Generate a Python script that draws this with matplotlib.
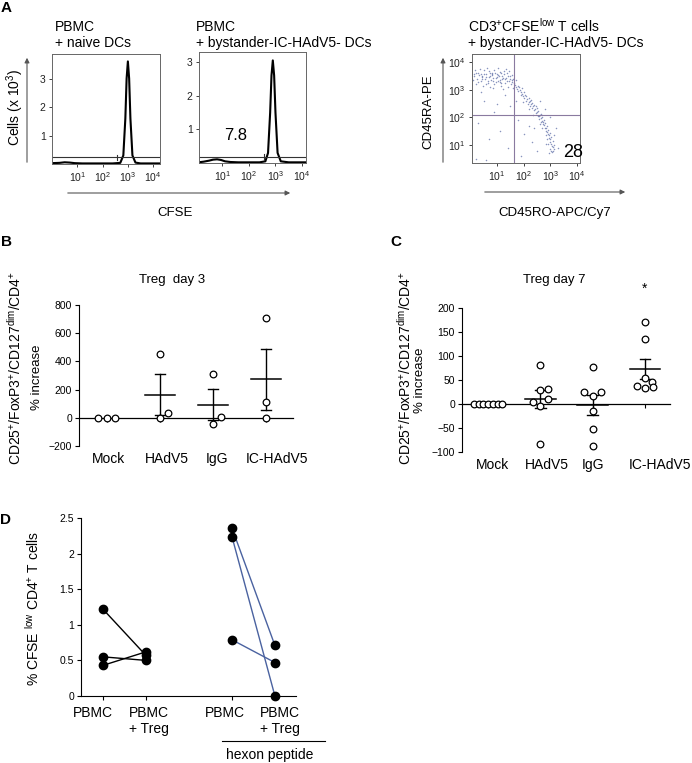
import numpy as np
import matplotlib
matplotlib.use("Agg")
import matplotlib.pyplot as plt
from matplotlib.patches import FancyArrowPatch
from matplotlib.lines import Line2D

plt.rcParams['font.family'] = ['Liberation Sans', 'DejaVu Sans']
plt.rcParams['mathtext.fontset'] = 'custom'
plt.rcParams['mathtext.rm'] = 'Liberation Sans'
plt.rcParams['mathtext.it'] = 'Liberation Sans:italic'
plt.rcParams['mathtext.bf'] = 'Liberation Sans:bold'
plt.rcParams['mathtext.default'] = 'regular'

# -----------------------------------------------------------
# Data
# -----------------------------------------------------------
# Panel A: CFSE histograms (log10 intensity vs cells x 10^3)
naive_log = [0.0, 0.3, 0.5, 0.7, 0.9, 1.2, 1.6, 2.0, 2.4, 2.7, 2.82, 2.9,
             2.95, 3.0, 3.05, 3.1, 3.18, 3.3, 3.5, 3.8, 4.25]
naive_cells = [0.03, 0.04, 0.06, 0.05, 0.03, 0.02, 0.02, 0.02, 0.02, 0.04, 0.3, 1.6,
               3.0, 3.6, 3.0, 1.6, 0.3, 0.05, 0.02, 0.02, 0.02]
byst_log = [0.1, 0.3, 0.5, 0.65, 0.8, 0.95, 1.1, 1.3, 1.6, 2.0, 2.4, 2.62, 2.72,
            2.8, 2.85, 2.9, 2.95, 3.0, 3.08, 3.2, 3.5, 3.8, 4.2]
byst_cells = [0.02, 0.04, 0.07, 0.10, 0.11, 0.09, 0.05, 0.03, 0.02, 0.02, 0.02, 0.05, 0.3,
              1.5, 2.6, 3.05, 2.6, 1.5, 0.3, 0.05, 0.02, 0.02, 0.02]
cfse_low_pct = "7.8"

# Panel A: CD45RO (x) vs CD45RA (y) dot plot of CFSE-low T cells, log10 units
ro_log = [0.15, 0.25, 0.30, 0.38, 0.42, 0.50, 0.55, 0.60, 0.65, 0.70, 0.72, 0.78, 0.82, 0.88, 0.90,
          0.95, 1.00, 1.02, 1.08, 1.12, 1.15, 1.20, 1.25, 1.28, 1.32, 1.38, 1.40, 1.45, 1.50, 1.52,
          1.58, 1.60, 0.20, 0.35, 0.48, 0.62, 0.85, 1.05, 1.22, 1.35, 0.10, 0.58, 0.75, 1.18, 1.46,
          1.65, 1.70, 1.72, 1.78, 1.80, 1.85, 1.88, 1.92, 1.95, 2.00, 2.02, 2.08, 2.10, 2.15, 2.18,
          2.22, 2.25, 2.30, 2.32, 2.38, 2.40, 2.45, 2.48, 2.52, 2.55, 2.58, 2.62, 2.65, 2.68, 2.72,
          2.75, 2.78, 2.80, 2.84, 2.86, 2.90, 2.92, 2.95, 2.97, 3.00, 3.02, 3.05, 3.08, 3.10, 3.12,
          2.88, 2.98, 2.70, 2.60, 2.35, 2.20, 1.98, 0.50, 0.90, 1.30, 0.30, 1.10, 1.50, 0.70, 1.80,
          2.00, 1.40, 2.30, 2.50, 2.60, 2.80, 3.20, 3.30, 1.90, 2.20, 0.40, 1.00, 1.70, 3.00, 2.40,
          0.20, 0.60, 0.45, 0.80, 1.10, 1.55, 2.95, 3.05, 2.85, 3.15,
          0.12, 0.22, 0.28, 0.33, 0.45, 0.52, 0.57, 0.68, 0.74, 0.80, 0.86, 0.93, 0.98, 1.04, 1.10,
          1.16, 1.24, 1.30, 1.36, 1.42, 1.48, 1.55, 0.40, 0.66, 0.96, 1.26, 1.56, 0.18, 0.84, 1.14,
          1.68, 1.75, 1.82, 1.90, 1.96, 2.05, 2.12, 2.20, 2.27, 2.34, 2.42, 2.50, 2.57, 2.64, 2.70,
          2.77, 2.83, 2.89, 2.94, 3.00, 3.04, 3.08, 3.14, 2.82, 2.92, 3.02, 2.74, 2.66, 2.46, 2.28]
ra_log = [3.55, 3.40, 3.62, 3.30, 3.50, 3.71, 3.38, 3.55, 3.25, 3.45, 3.62, 3.35, 3.52, 3.70, 3.20,
          3.42, 3.58, 3.30, 3.48, 3.65, 3.15, 3.38, 3.55, 3.25, 3.44, 3.60, 3.10, 3.32, 3.50, 3.20,
          3.40, 3.05, 3.20, 3.75, 3.15, 3.80, 3.05, 3.78, 3.02, 3.75, 3.35, 3.45, 3.10, 3.50, 3.68,
          3.25, 3.10, 3.35, 2.95, 3.15, 3.00, 2.80, 3.05, 2.85, 2.70, 2.92, 2.60, 2.78, 2.50, 2.70,
          2.42, 2.60, 2.35, 2.52, 2.25, 2.45, 2.15, 2.32, 2.05, 2.22, 1.95, 2.10, 1.85, 2.00, 1.75,
          1.90, 1.62, 1.80, 1.50, 1.68, 1.40, 1.55, 1.25, 1.45, 1.10, 1.30, 0.95, 1.15, 0.80, 1.00,
          1.20, 0.85, 1.60, 1.75, 2.10, 2.30, 2.55, 2.60, 2.20, 2.80, 1.80, 1.50, 2.40, 1.20, 1.90,
          1.40, 0.90, 1.10, 0.80, 2.60, 2.30, 1.60, 0.90, 0.60, 1.70, 2.90, 2.50, 2.60, 2.00, 1.60,
          0.50, 0.45, 3.45, 3.60, 3.28, 3.35, 0.70, 0.75, 1.05, 1.35,
          3.48, 3.60, 3.28, 3.52, 3.40, 3.58, 3.22, 3.68, 3.48, 3.58, 3.30, 3.60, 3.45, 3.52, 3.35,
          3.62, 3.44, 3.38, 3.30, 3.48, 3.40, 3.28, 3.58, 3.32, 3.28, 3.66, 3.52, 3.70, 3.42, 3.25,
          3.18, 3.02, 3.08, 2.90, 2.78, 2.82, 2.66, 2.55, 2.48, 2.40, 2.30, 2.18, 2.05, 1.98, 1.88,
          1.72, 1.60, 1.48, 1.35, 1.22, 1.05, 0.92, 0.85, 1.38, 1.05, 0.78, 1.82, 2.12, 2.40, 2.62]
ro_quadrant_pct = "28"

# Panels B and C: % increase of CD25+/FoxP3+/CD127dim/CD4+ Treg
treg_groups = ['Mock', 'HAdV5', 'IgG', 'IC-HAdV5']
treg_day3 = [[0, 0, 0],
             [452, 37, 2],
             [309, 9, -42],
             [705, 115, -2]]
treg_day7 = [[0, 0, 0, 0, 0, 0, 0],
             [81, 30, 31, 5, 11, -5, -84],
             [78, 26, 26, 16, -15, -52, -87],
             [170, 136, 54, 38, 46, 33, 36]]

# Panel D: % CFSE-low CD4+ T cells, paired donors
d_labels = ['PBMC', 'PBMC\n+ Treg', 'PBMC', 'PBMC\n+ Treg']
pbmc_alone = [1.22, 0.55, 0.43]
pbmc_treg = [0.57, 0.50, 0.62]
hexon_pbmc = [2.36, 2.24, 0.79]
hexon_treg = [0.71, 0.0, 0.47]

# -----------------------------------------------------------
# Layout helpers (reference is 692 x 763 px)
# -----------------------------------------------------------
W, H = 692, 763
fig = plt.figure(figsize=(W / 100, H / 100), dpi=100)


def fx(x):
    return x / W


def fy(y):
    return 1 - y / H


def box(x0, y0, x1, y1):
    return [x0 / W, 1 - y1 / H, (x1 - x0) / W, (y1 - y0) / H]


def arrow(x0, y0, x1, y1):
    fig.add_artist(FancyArrowPatch((fx(x0), fy(y0)), (fx(x1), fy(y1)),
                                   transform=fig.transFigure, arrowstyle='-|>',
                                   mutation_scale=7, color='#555555', lw=0.8))


def letter(x, y, s):
    fig.text(fx(x), fy(y), s, fontsize=11, fontweight='bold', ha='center', va='center')


decades = [1, 2, 3, 4]
dec_labels = [f'$10^{{{d}}}$' for d in decades]


def flow_frame(ax):
    for s in ax.spines.values():
        s.set_color('#666666')
        s.set_linewidth(0.7)
    ax.tick_params(labelsize=7.5, length=2.5, width=0.6, pad=2, colors='#222222')


# -----------------------------------------------------------
# Panel A
# -----------------------------------------------------------
letter(6, 8, 'A')
hist_specs = [
    (box(52, 54, 160, 164), naive_log, naive_cells, (0.0, 4.27), (0, 3.86), 0.25, 2.57, None),
    (box(199, 52, 306, 163), byst_log, byst_cells, (0.12, 4.15), (0, 3.3), 0.19, 2.58, cfse_low_pct),
]
for rect, xs, ys, xl, yl, gate_y, gate_x, pct in hist_specs:
    ax = fig.add_axes(rect)
    ax.plot(xs, ys, color='black', lw=1.5)
    ax.axhline(gate_y, color='#333333', lw=0.8)
    ax.plot([gate_x, gate_x], [gate_y - 0.1, gate_y + 0.08], color='#333333', lw=0.8)
    ax.set_xlim(xl)
    ax.set_ylim(yl)
    ax.set_xticks(decades, dec_labels)
    ax.set_yticks([1, 2, 3])
    flow_frame(ax)
    if pct:
        ax.text(0.34, 0.25, pct, transform=ax.transAxes, fontsize=12, ha='center', va='center')

fig.text(fx(55), fy(27), 'PBMC', fontsize=10, va='center')
fig.text(fx(55), fy(43), '+ naive DCs', fontsize=10, va='center')
fig.text(fx(196), fy(27), 'PBMC', fontsize=10, va='center')
fig.text(fx(196), fy(43), '+ bystander-IC-HAdV5- DCs', fontsize=10, va='center')
fig.text(fx(15), fy(107), 'Cells (x 10$^{3}$)', fontsize=10, rotation=90, ha='center', va='center')
arrow(27, 165, 27, 55)
arrow(65, 193, 293, 193)
fig.text(fx(175), fy(213), 'CFSE', fontsize=9.5, ha='center', va='center')

# dot plot
ax = fig.add_axes(box(472, 54, 580, 163))
ax.scatter(ro_log, ra_log, s=1.2, color='#4a5c9c', alpha=0.65, linewidths=0)
ax.axvline(1.63, color='#8a7aa0', lw=0.8)
ax.axhline(2.1, color='#8a7aa0', lw=0.8)
ax.set_xlim(0.06, 4.11)
ax.set_ylim(0.35, 4.29)
ax.set_xticks(decades, dec_labels)
ax.set_yticks(decades, dec_labels)
flow_frame(ax)
ax.text(0.935, 0.1, ro_quadrant_pct, transform=ax.transAxes, fontsize=13, ha='center', va='center')
fig.text(fx(468), fy(26), 'CD3$^{+}$CFSE$^{low}$ T cells', fontsize=10, va='center')
fig.text(fx(468), fy(43), '+ bystander-IC-HAdV5- DCs', fontsize=10, va='center')
fig.text(fx(428), fy(112), 'CD45RA-PE', fontsize=9.5, rotation=90, ha='center', va='center')
arrow(443, 165, 443, 55)
arrow(482, 192, 628, 192)
fig.text(fx(555), fy(213), 'CD45RO-APC/Cy7', fontsize=9.5, ha='center', va='center')


# -----------------------------------------------------------
# Panels B and C: scatter with mean +/- SEM
# -----------------------------------------------------------
def treg_panel(rect, groups, offsets, ylim, yticks, xlim, label_shift):
    ax = fig.add_axes(rect)
    pos = np.arange(1, len(groups) + 1)
    for p, vals, offs in zip(pos, groups, offsets):
        vals = np.asarray(vals, dtype=float)
        ax.plot(p + np.asarray(offs), vals, 'o', ms=4.8, mfc='white', mec='black',
                mew=0.9, clip_on=False, zorder=3)
        m = vals.mean()
        sem = vals.std(ddof=1) / np.sqrt(len(vals))
        if sem > 0:
            ax.plot([p - 0.29, p + 0.29], [m, m], color='black', lw=1.1)
            ax.plot([p, p], [m - sem, m + sem], color='black', lw=1.0)
            for e in (m - sem, m + sem):
                ax.plot([p - 0.1, p + 0.1], [e, e], color='black', lw=1.0)
    ax.set_xlim(xlim)
    ax.set_ylim(ylim)
    ax.set_yticks(yticks)
    for s in ('top', 'right', 'bottom'):
        ax.spines[s].set_visible(False)
    ax.tick_params(axis='y', labelsize=7.5, length=3, width=0.8, pad=2)
    ax.set_xticks(pos + np.asarray(label_shift), treg_groups)
    ax.tick_params(axis='x', length=0, labelsize=10, pad=4)
    zero_loc = (0 - ylim[0]) / (ylim[1] - ylim[0])
    sec = ax.secondary_xaxis(zero_loc)
    sec.set_xticks(pos)
    sec.tick_params(axis='x', length=3, width=0.8, labelbottom=False)
    sec.spines['bottom'].set_linewidth(0.9)
    return ax


letter(7, 242, 'B')
axB = treg_panel(box(79, 305, 293, 446), treg_day3,
                 [[-0.17, 0, 0.15], [0, 0.15, 0], [0, 0.16, 0], [0, 0, 0]],
                 (-200, 800), range(-200, 801, 200), (0.47, 4.51),
                 [0.02, 0.13, 0.08, 0.2])
fig.text(fx(172), fy(280), 'Treg  day 3', fontsize=9.5, ha='center', va='center')
fig.text(fx(15), fy(368), 'CD25$^{+}$/FoxP3$^{+}$/CD127$^{dim}$/CD4$^{+}$', fontsize=10,
         rotation=90, ha='center', va='center')
fig.text(fx(37), fy(377), '% increase', fontsize=9.5, rotation=90, ha='center', va='center')

letter(396, 242, 'C')
mock7 = [-0.27, -0.18, -0.09, 0, 0.09, 0.18, 0.27]
axC = treg_panel(box(462, 308, 670, 452), treg_day7,
                 [mock7,
                  [0, 0, 0.15, -0.15, 0.15, 0, 0],
                  [0, -0.16, 0.16, 0, 0, 0, 0],
                  [0, 0, 0, -0.16, 0.14, 0, 0.16]],
                 (-100, 200), range(-100, 201, 50), (0.5, 4.48),
                 [0.08, 0.13, 0.0, 0.29])
axC.text(4, 240, '*', fontsize=10, ha='center', va='center', clip_on=False)
fig.text(fx(554), fy(280), 'Treg day 7', fontsize=9.5, ha='center', va='center')
fig.text(fx(405), fy(368), 'CD25$^{+}$/FoxP3$^{+}$/CD127$^{dim}$/CD4$^{+}$', fontsize=10,
         rotation=90, ha='center', va='center')
fig.text(fx(420), fy(380), '% increase', fontsize=9.5, rotation=90, ha='center', va='center')

# -----------------------------------------------------------
# Panel D: paired lines
# -----------------------------------------------------------
letter(6, 520, 'D')
axD = fig.add_axes(box(81, 518, 296, 696))
for a, b in zip(pbmc_alone, pbmc_treg):
    axD.plot([1, 2], [a, b], color='black', lw=1.0, zorder=2)
for a, b in zip(hexon_pbmc, hexon_treg):
    axD.plot([4, 5], [a, b], color='#4a62a0', lw=1.0, zorder=2)
axD.plot([1] * 3 + [2] * 3, pbmc_alone + pbmc_treg, 'o', color='black', ms=6, clip_on=False, zorder=3)
axD.plot([4] * 3 + [5] * 3, hexon_pbmc + hexon_treg, 'o', color='black', ms=6, clip_on=False, zorder=3)
axD.set_xlim(0.49, 5.49)
axD.set_ylim(0, 2.5)
axD.set_yticks([0, 0.5, 1, 1.5, 2, 2.5], ['0', '0.5', '1', '1.5', '2', '2.5'])
d_pos = np.array([1, 2, 4, 5])
axD.set_xticks(d_pos, [''] * 4)
axD.set_xticks(d_pos + np.array([-0.23, 0.07, -0.16, 0.12]), d_labels, minor=True)
axD.spines['top'].set_visible(False)
axD.spines['right'].set_visible(False)
axD.tick_params(axis='y', labelsize=7.5, length=3, width=0.8, pad=2)
axD.tick_params(axis='x', which='major', length=3, width=0.8)
axD.tick_params(axis='x', which='minor', length=0, labelsize=10, pad=7)
axD.add_line(Line2D([0.656, 1.135], [-0.253, -0.253], transform=axD.transAxes,
                    color='black', lw=0.8, clip_on=False))
axD.text(0.879, -0.33, 'hexon peptide', transform=axD.transAxes, fontsize=10,
         ha='center', va='center')
fig.text(fx(33), fy(608), '% CFSE $^{low}$ CD4$^{+}$ T cells', fontsize=10,
         rotation=90, ha='center', va='center')

fig.savefig('out.png', dpi=100)
